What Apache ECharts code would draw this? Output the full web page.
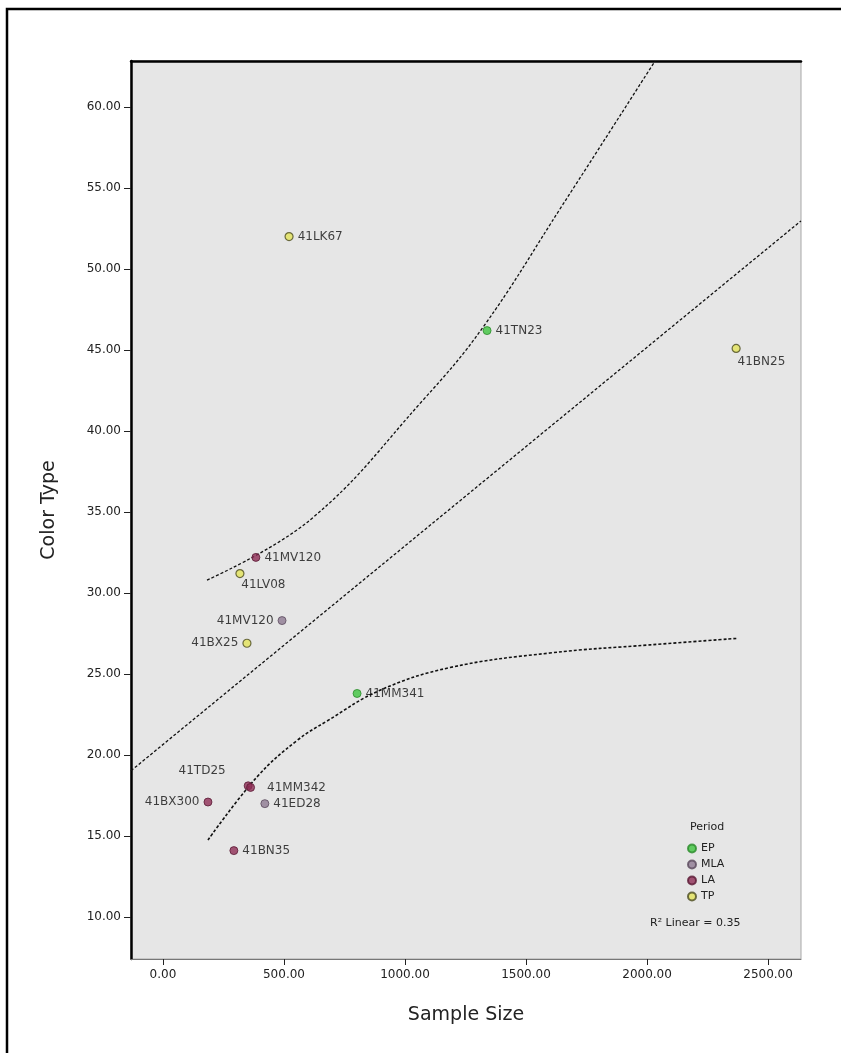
<!DOCTYPE html>
<html><head><meta charset="utf-8">
<script src="https://cdn.jsdelivr.net/npm/echarts@6/dist/echarts.min.js"></script>
<style>html,body{margin:0;padding:0;background:#fff}#c{width:841px;height:1053px}</style>
</head><body><div id="c"></div>
<script>
// ---- data ----
const siteNames  = ['41LK67','41TN23','41BN25','41MV120','41LV08','41MV120g','41BX25','41MM341','41TD25','41MM342','41BX300','41ED28','41BN35'];
const sampleSize = [521, 1339, 2368, 384, 318, 492, 347, 802, 352, 362, 186, 421, 293];
const colorType  = [52.0, 46.2, 45.1, 32.2, 31.2, 28.3, 26.9, 23.8, 18.1, 18.0, 17.1, 17.0, 14.1];
const period     = ['TP','EP','TP','LA','TP','MLA','TP','EP','LA','LA','LA','MLA','LA'];
const periods    = ['EP','MLA','LA','TP'];
const xTicks = [0, 500, 1000, 1500, 2000, 2500];
const yTicks = [10, 15, 20, 25, 30, 35, 40, 45, 50, 55, 60];
const fitX   = [-132, 2636];
const fitY   = [19.03, 52.97];
const upperX = [182, 607, 1074, 1322, 1653, 2033];
const upperY = [30.8, 34.5, 41.9, 46.4, 54.0, 62.84];
const lowerX = [186, 388, 554, 678, 897, 1186, 1599, 2012, 2372];
const lowerY = [14.75, 18.64, 20.9, 22.1, 24.0, 25.4, 26.3, 26.8, 27.2];
const rSquared = '0.35';

// ---- styles ----
const periodStyle = {
  EP:  {color:'#3ec43e', borderColor:'#2a8a2a', borderWidth:1},
  MLA: {color:'#8f7a92', borderColor:'#5a4a5c', borderWidth:1},
  LA:  {color:'#8e2d55', borderColor:'#5a1a35', borderWidth:1},
  TP:  {color:'#e4e45a', borderColor:'#4a4a20', borderWidth:1.2}
};
const labelPlacement = {
  '41BN25':   {position:[6, 12]},
  '41LV08':   {position:[6, 10]},
  '41MV120g': {position:'left'},
  '41BX25':   {position:'left'},
  '41TD25':   {position:'left', offset:[-14,-15]},
  '41MM342':  {position:'right', distance:12},
  '41BX300':  {position:'left'}
};
const font = 'DejaVu Sans';
const xMin = -132, xMax = 2636, yMin = 7.41, yMax = 62.84;

const pointSeries = periods.map(p => ({
  name: p, type: 'scatter', symbol: 'circle', symbolSize: 8,
  itemStyle: periodStyle[p],
  z: 5,
  data: siteNames.map((n, i) => ({n, i})).filter(o => period[o.i] === p).map(o => {
    const lp = labelPlacement[o.n] || {position:'right'};
    return {
      name: o.n,
      value: [sampleSize[o.i], colorType[o.i]],
      label: Object.assign({show:true, formatter: o.n.replace(/g$/, ''), color:'#111', fontFamily:font, fontSize:12, distance:4}, lp)
    };
  })
}));

const lineStyle = {color:'#111', width:1.3, type:[3,2]};
const zip = (xs, ys) => xs.map((x, i) => [x, ys[i]]);
const lineSeries = [
  {name:'fit', type:'line', data: zip(fitX, fitY), symbol:'none', lineStyle, silent:true, z:3},
  {name:'upper', type:'line', data: zip(upperX, upperY), symbol:'none', smooth:0.4, lineStyle, silent:true, z:3},
  {name:'lower', type:'line', data: zip(lowerX, lowerY), symbol:'none', smooth:0.4, lineStyle:Object.assign({}, lineStyle, {width:1.6}), silent:true, z:3}
];

const chart = echarts.init(document.getElementById('c'), null, {renderer:'canvas'});
chart.setOption({
  animation: false,
  backgroundColor: '#fff',
  grid: {left:131, top:61, width:670, height:898, show:true, backgroundColor:'#e6e6e6', borderColor:'#a8a8a8', borderWidth:1},
  xAxis: [{
    type:'value', min:xMin, max:xMax, position:'bottom',
    name:'Sample Size', nameLocation:'middle', nameGap:47,
    nameTextStyle:{fontFamily:font, fontSize:19, color:'#222'},
    axisLine:{show:true, onZero:false, lineStyle:{color:'#777', width:1}},
    axisTick:{show:true, length:6, customValues:xTicks, lineStyle:{color:'#222'}},
    axisLabel:{customValues:xTicks, formatter:v => v.toFixed(2), fontFamily:font, fontSize:12, color:'#222', margin:10},
    splitLine:{show:false}
  },{
    type:'value', min:xMin, max:xMax, position:'top',
    axisLine:{show:true, onZero:false, lineStyle:{color:'#000', width:2.5}},
    axisTick:{show:false}, axisLabel:{show:false}, splitLine:{show:false}
  }],
  yAxis: {
    type:'value', min:yMin, max:yMax, position:'left',
    name:'Color Type', nameLocation:'middle', nameGap:72,
    nameTextStyle:{fontFamily:font, fontSize:19, color:'#222'},
    axisLine:{show:true, onZero:false, lineStyle:{color:'#000', width:2.5}},
    axisTick:{show:true, length:7, customValues:yTicks, lineStyle:{color:'#222'}},
    axisLabel:{customValues:yTicks, formatter:v => v.toFixed(2), fontFamily:font, fontSize:12, color:'#222', margin:10},
    splitLine:{show:false}
  },
  legend: {
    data: periods, orient:'vertical', left:687, top:843, itemWidth:8, itemHeight:8, itemGap:5,
    icon:'circle', textStyle:{fontFamily:font, fontSize:11, color:'#222'}, padding:0
  },
  graphic: [
    {type:'rect', shape:{x:7, y:9, width:900, height:1100}, style:{fill:'none', stroke:'#000', lineWidth:2.5}, silent:true},
    {type:'text', left:690, top:822, style:{text:'Period', font:'11px "DejaVu Sans"', fill:'#222'}},
    {type:'text', left:650, top:918, style:{text:'R\u00b2 Linear = ' + rSquared, font:'11px "DejaVu Sans"', fill:'#222'}}
  ],
  series: lineSeries.concat(pointSeries)
});
</script></body></html>
